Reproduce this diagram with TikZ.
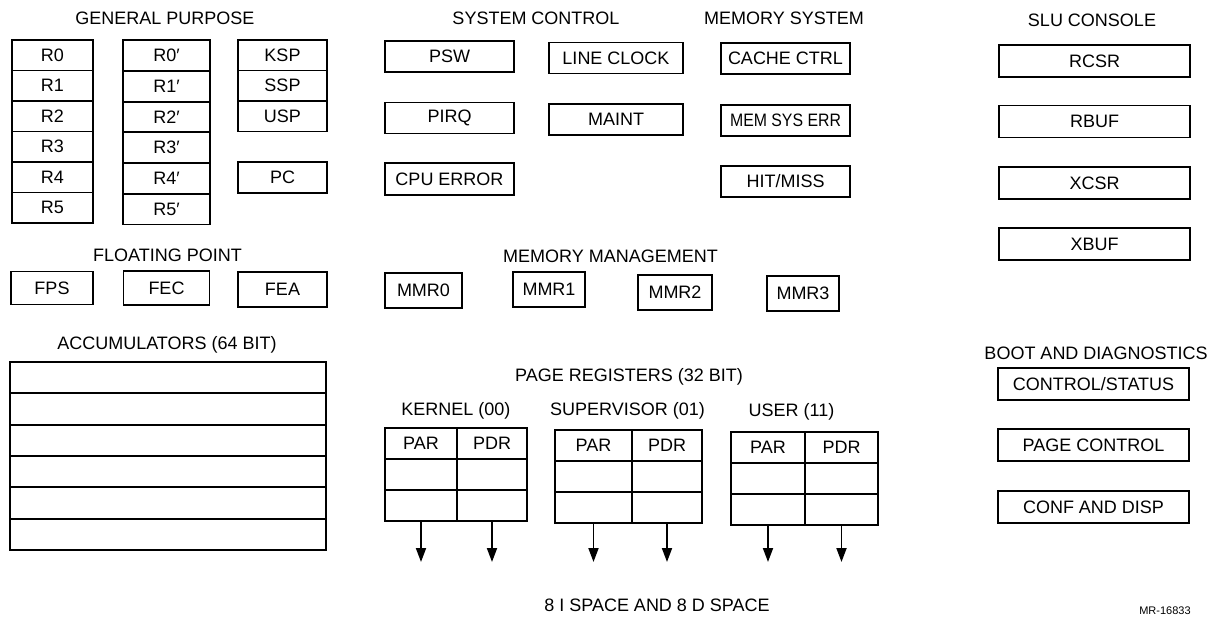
\documentclass[tikz,border=0pt]{standalone}
\usepackage{fontspec}
\setmainfont{Liberation Sans}
\usepackage{graphicx}
\usetikzlibrary{arrows.meta}

\begin{document}
\begin{tikzpicture}[x=1pt,y=-1pt,
    font=\fontsize{18}{21}\selectfont,
    reg/.style={draw,line width=1.9pt,inner sep=0pt,minimum height=31pt},
    gpa/.style={reg,minimum width=81pt,minimum height=30.5pt},
    gpb/.style={reg,minimum width=87pt,minimum height=30.5pt},
    gpc/.style={reg,minimum width=89pt,minimum height=30.5pt},
    acc/.style={reg,minimum width=316pt,minimum height=31.33pt},
    title/.style={anchor=base,inner sep=0pt},
    pgarrow/.style={-{Triangle[length=14pt,width=10pt]},line width=1.9pt}]
  \useasboundingbox (0,0) rectangle (1208,617);

  % general purpose
  \draw
    (165,25) node[title] (gp){GENERAL PURPOSE}
    (52.5,55.25) node[gpa] (r0){R0}
    (52.5,85.75) node[gpa] (r1){R1}
    (52.5,116.25) node[gpa] (r2){R2}
    (52.5,146.75) node[gpa] (r3){R3}
    (52.5,177.25) node[gpa] (r4){R4}
    (52.5,207.75) node[gpa] (r5){R5}
    (166.5,55.5) node[gpb] (rr0){R0′}
    (166.5,86.25) node[gpb] (rr1){R1′}
    (166.5,117) node[gpb] (rr2){R2′}
    (166.5,147.75) node[gpb] (rr3){R3′}
    (166.5,178.5) node[gpb] (rr4){R4′}
    (166.5,209.25) node[gpb] (rr5){R5′}
    (282.5,55.25) node[gpc] (ksp){KSP}
    (282.5,85.75) node[gpc] (ssp){SSP}
    (282.5,116.25) node[gpc] (usp){USP}
    (282.5,177.5) node[gpc] (pc){PC};

  % floating point
  \draw
    (167.5,262) node[title] (fp){FLOATING POINT}
    (52,288) node[reg,minimum width=82pt,minimum height=33pt] (fps){FPS}
    (166.5,288) node[reg,minimum width=86pt,minimum height=34pt] (fec){FEC}
    (282.5,289.5) node[reg,minimum width=89pt,minimum height=35pt] (fea){FEA};

  % accumulators
  \draw
    (167,350) node[title] (ac){ACCUMULATORS (64 BIT)}
    (168,377.67) node[acc] (ac0){}
    (168,409) node[acc] (ac1){}
    (168,440.33) node[acc] (ac2){}
    (168,471.67) node[acc] (ac3){}
    (168,503) node[acc] (ac4){}
    (168,534.33) node[acc] (ac5){};

  % system control
  \draw
    (536,25) node[title] (sc){SYSTEM CONTROL}
    (449.5,56.5) node[reg,minimum width=129pt] (psw){PSW}
    (616,58) node[reg,minimum width=134pt] (lclk){LINE CLOCK}
    (449.5,118) node[reg,minimum width=129pt] (pirq){PIRQ}
    (616,119.5) node[reg,minimum width=134pt] (maint){MAINT}
    (449.5,179) node[reg,minimum width=129pt,minimum height=32pt] (cpuerr){CPU ERROR};

  % memory system
  \draw
    (784,25) node[title] (ms){MEMORY SYSTEM}
    (785.5,58.5) node[reg,minimum width=129pt] (cache){CACHE CTRL}
    (785.5,120.5) node[reg,minimum width=129pt] (memerr){\scalebox{0.88}[1]{MEM SYS ERR}}
    (785.5,181.5) node[reg,minimum width=129pt] (hit){HIT/MISS};

  % memory management
  \draw
    (610.5,263) node[title] (mm){MEMORY MANAGEMENT}
    (423.5,290.5) node[reg,minimum width=77pt,minimum height=35pt] (mmr0){MMR0}
    (549,289.5) node[reg,minimum width=72pt,minimum height=35pt] (mmr1){MMR1}
    (675,292.5) node[reg,minimum width=74pt,minimum height=35pt] (mmr2){MMR2}
    (803,293.5) node[reg,minimum width=72pt,minimum height=35pt] (mmr3){MMR3};

  % slu console
  \draw
    (1092,27) node[title] (slu){SLU CONSOLE}
    (1094.5,61) node[reg,minimum width=191pt,minimum height=32pt] (rcsr){RCSR}
    (1094.5,121.5) node[reg,minimum width=191pt,minimum height=32pt] (rbuf){RBUF}
    (1094.5,183) node[reg,minimum width=191pt,minimum height=32pt] (xcsr){XCSR}
    (1094.5,244) node[reg,minimum width=191pt,minimum height=32pt] (xbuf){XBUF};

  % boot and diagnostics
  \draw
    (1096,360) node[title] (boot){BOOT AND DIAGNOSTICS}
    (1093.5,384) node[reg,minimum width=191pt,minimum height=32pt] (csr){CONTROL/STATUS}
    (1093.5,445) node[reg,minimum width=191pt,minimum height=32pt] (pgctl){PAGE CONTROL}
    (1093.5,507) node[reg,minimum width=191pt,minimum height=32pt] (conf){CONF AND DISP};

  % page registers
  \draw
    (629,382) node[title] (pr){PAGE REGISTERS (32 BIT)}
    (456,416) node[title] (kt){KERNEL (00)}
    (627.5,416) node[title] (st){SUPERVISOR (01)}
    (791.5,417) node[title] (ut){USER (11)}
    (421,443.5) node[reg,minimum width=72pt] (kpar){PAR}
    (492,443.5) node[reg,minimum width=70pt] (kpdr){PDR}
    (421,474.5) node[reg,minimum width=72pt] (ka1){}
    (492,474.5) node[reg,minimum width=70pt] (kd1){}
    (421,505.5) node[reg,minimum width=72pt] (ka2){}
    (492,505.5) node[reg,minimum width=70pt] (kd2){}
    (593.5,445.5) node[reg,minimum width=77pt] (spar){PAR}
    (667,445.5) node[reg,minimum width=70pt] (spdr){PDR}
    (593.5,476.5) node[reg,minimum width=77pt] (sa1){}
    (667,476.5) node[reg,minimum width=70pt] (sd1){}
    (593.5,507.5) node[reg,minimum width=77pt] (sa2){}
    (667,507.5) node[reg,minimum width=70pt] (sd2){}
    (768,447.5) node[reg,minimum width=74pt] (upar){PAR}
    (841.5,447.5) node[reg,minimum width=73pt] (updr){PDR}
    (768,478.5) node[reg,minimum width=74pt] (ua1){}
    (841.5,478.5) node[reg,minimum width=73pt] (ud1){}
    (768,509.5) node[reg,minimum width=74pt] (ua2){}
    (841.5,509.5) node[reg,minimum width=73pt] (ud2){};
  \coordinate (kaend) at (421,562);
  \coordinate (kdend) at (492,562);
  \coordinate (saend) at (593.5,562);
  \coordinate (sdend) at (667,562);
  \coordinate (uaend) at (768,562);
  \coordinate (udend) at (841.5,562);
  \begin{scope}[pgarrow]
    \draw (ka2) -- (kaend);
    \draw (kd2) -- (kdend);
    \draw (sa2) -- (saend);
    \draw (sd2) -- (sdend);
    \draw (ua2) -- (uaend);
    \draw (ud2) -- (udend);
  \end{scope}

  \draw
    (657,611) node[title] (space){8 I SPACE AND 8 D SPACE}
    (1165,614) node[title,font=\fontsize{11}{13}\selectfont] (mr){MR-16833};
\end{tikzpicture}
\end{document}
